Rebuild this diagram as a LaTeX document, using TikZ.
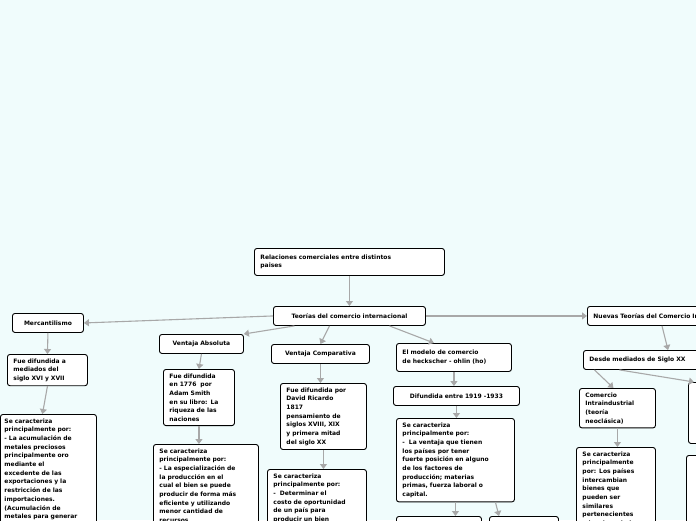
\documentclass[tikz,border=0pt]{standalone}
\usepackage{fontspec}
\setmainfont{DejaVu Sans}
\usetikzlibrary{arrows.meta}
\definecolor{bg}{HTML}{F0FCFC}
\definecolor{arr}{HTML}{A8A8A8}
\tikzset{
 box/.style={draw=black, line width=0.9pt, fill=white, rounded corners=2.5pt, anchor=north west, align=left, inner xsep=6pt, inner ysep=4pt, font=\fontsize{6}{8.7}\selectfont\bfseries},
 con/.style={draw=arr, line width=1.1pt, -{Triangle[length=5pt,width=7pt]}}
}
\begin{document}
\begin{tikzpicture}[x=1pt,y=-1pt]
\useasboundingbox (0,0) rectangle (696,520);
\clip (0,0) rectangle (696,520);
\fill[bg] (0,0) rectangle (696,520);
\node[box, text width=178pt, minimum height=27pt] (rel) at (254,248) {Relaciones comerciales entre distintos\\paises};
\node[box, text width=140pt, minimum height=19pt, align=center] (teo) at (273,306) {Teorías del comercio internacional};
\node[box, text width=59pt, minimum height=19pt, align=center] (mer) at (12,313) {Mercantilismo};
\node[box, text width=68pt] (m1) at (7,354) {Fue difundida a\\mediados del\\siglo XVI y XVII};
\node[box, text width=88pt, inner xsep=4pt] (m2) at (0,414) {Se caracteriza\\principalmente por:\\- La acumulación de\\metales preciosos\\principalmente oro\\mediante el\\excedente de las\\exportaciones y la\\restricción de las\\importaciones.\\(Acumulación de\\metales para generar\\riqueza)};
\node[box, text width=72pt, minimum height=19pt, align=center] (va) at (159,334) {Ventaja Absoluta};
\node[box, text width=59pt] (v1) at (163,369) {Fue difundida\\en 1776~ por\\Adam Smith\\en su libro: La\\riqueza de las\\naciones};
\node[box, text width=93pt] (v2) at (153,444) {Se caracteriza\\principalmente por:\\- La especialización de\\la producción en el\\cual el bien se puede\\producir de forma más\\eficiente y utilizando\\menor cantidad de\\recursos};
\node[box, text width=87pt] (c2) at (267,469) {Se caracteriza\\principalmente por:\\-~ Determinar el\\costo de oportunidad\\de un país para\\producir un bien};
\node[box, text width=86pt, minimum height=19pt, align=center] (vc) at (271,344) {Ventaja Comparativa};
\node[box, text width=74pt] (c1) at (280,383) {Fue difundida por\\David Ricardo\\1817\\pensamiento de\\siglos XVIII, XIX\\y primera mitad\\del siglo XX};
\node[box, text width=103pt, minimum height=28pt] (ho) at (396,343) {El modelo de comercio\\de heckscher - ohlin (ho)};
\node[box, text width=114pt, minimum height=19pt, align=center] (h1) at (393,386) {Difundida entre 1919 -1933};
\node[box, text width=106pt] (h2) at (396,418) {Se caracteriza\\principalmente por:\\-~ La ventaja que tienen\\los países por tener\\fuerte posición en alguno\\de los factores de\\producción; materias\\primas, fuerza laboral o\\capital.};
\node[box, text width=73pt, minimum height=20pt] (h3) at (396,516) {~};
\node[box, text width=57pt, minimum height=20pt] (h4) at (489,516) {~};
\node[box, text width=170pt, minimum height=19pt] (nt) at (587,306) {Nuevas Teorías del Comercio Internacional};
\node[box, text width=120pt, minimum height=19pt] (n1) at (583,350) {Desde mediados de Siglo XX};
\node[box, text width=64pt] (n2) at (579,388) {Comercio\\Intraindustrial\\(teoría\\neoclásica)};
\node[box, text width=67pt] (n3) at (576,447) {Se caracteriza\\principalmente\\por: Los países\\intercambian\\bienes que\\pueden ser\\similares\\pertenecientes\\a la misma industria};
\node[box, text width=40pt, minimum height=61pt] (n4) at (688,382) {~};
\node[box, text width=40pt, minimum height=80pt] (n5) at (686,455) {~};
\draw[con] (rel.south) -- (teo.north);
\draw[con] (teo.west) -- (mer.east);
\draw[con] ([xshift=-55pt]teo.south) -- (va.north east);
\draw[con] ([xshift=-20pt]teo.south) -- (vc.north);
\draw[con] ([xshift=40pt]teo.south) -- ([xshift=-20pt]ho.north);
\draw[con] (teo.east) -- (nt.west);
\draw[con] (mer.south) -- (m1.north);
\draw[con] (m1.south) -- ([xshift=-6pt]m2.north);
\draw[con] (va.south) -- (v1.north);
\draw[con] (v1.south) -- (v1.south|-v2.north);
\draw[con] (vc.south) -- (vc.south|-c1.north);
\draw[con] (c1.south) -- (c1.south|-c2.north);
\draw[con] (ho.south) -- (ho.south|-h1.north);
\draw[con] (h1.south) -- (h1.south|-h2.north);
\draw[con] (h2.south) -- (h2.south|-h3.north);
\draw[con] ([xshift=40pt]h2.south) -- ([xshift=10pt]h4.north west);
\draw[con] ([xshift=75pt]nt.south west) -- ([xshift=85pt]n1.north west);
\draw[con] ([xshift=-55pt]n1.south) -- ([xshift=-4pt]n2.north);
\draw[con] ([xshift=-30pt]n1.south) -- ([xshift=6pt]n4.north west);
\draw[con] (n2.south) -- (n2.south|-n3.north);
\end{tikzpicture}
\end{document}
